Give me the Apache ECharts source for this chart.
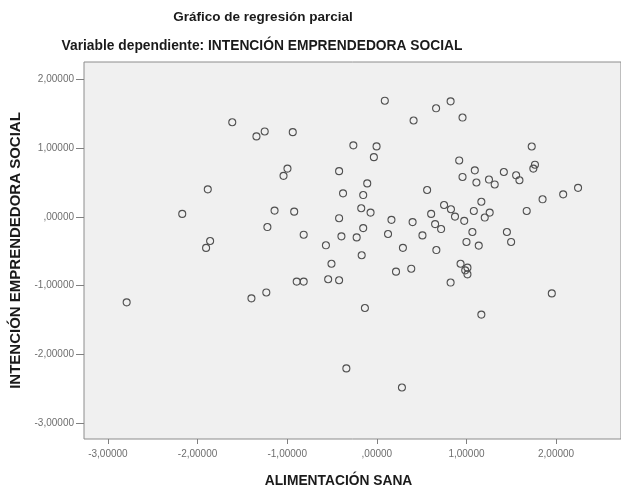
<!DOCTYPE html>
<html>
<head>
<meta charset="utf-8">
<script src="https://cdn.jsdelivr.net/npm/echarts@6/dist/echarts.min.js"></script>
<style>
html,body{margin:0;padding:0;background:#fff;}
#c{width:621px;height:493px;}
</style>
</head>
<body>
<div id="c"></div>
<script>
const titleText = "Gráfico de regresión parcial";
const subtitleText = "Variable dependiente: INTENCIÓN EMPRENDEDORA SOCIAL";
const xAxisName = "ALIMENTACIÓN SANA";
const yAxisName = "INTENCIÓN EMPRENDEDORA SOCIAL";
const xTicks = [-3, -2, -1, 0, 1, 2];
const yTicks = [-3, -2, -1, 0, 1, 2];

const xVals = [
 -1.613,-1.343,-1.886,-2.171,-1.221,-1.860,-1.905,-1.251,0.089,0.661,
 0.823,0.410,0.956,-0.938,-0.262,-0.003,-0.033,-0.997,-1.041,-0.421,
 -0.107,-0.377,-0.152,0.561,-1.141,-0.922,-0.174,-0.070,-0.421,0.163,
 0.399,0.606,0.650,-0.152,-0.816,-0.395,-0.225,0.125,0.509,-0.568,
 0.291,-0.169,0.664,1.728,0.919,1.093,1.764,1.746,0.956,1.111,
 1.417,1.251,1.315,1.554,1.591,2.245,2.079,1.849,1.166,0.750,
 0.827,1.082,1.259,1.204,0.872,0.975,1.672,0.717,1.066,1.451,
 1.000,1.137,1.498,-2.791,-1.399,-1.233,-0.506,-0.894,-0.816,-0.543,
 -0.421,-0.133,0.214,0.384,-0.340,0.280,0.934,1.011,1.011,0.986,
 0.823,1.952,1.166
];
const yVals = [
 1.375,1.169,0.400,0.043,-0.148,-0.350,-0.451,1.241,1.688,1.577,
 1.678,1.400,1.443,1.231,1.039,1.024,0.868,0.701,0.596,0.664,
 0.486,0.342,0.317,0.390,0.091,0.076,0.125,0.062,-0.019,-0.043,
 -0.076,0.043,-0.105,-0.163,-0.259,-0.283,-0.298,-0.249,-0.269,-0.413,
 -0.450,-0.557,-0.482,1.022,0.820,0.676,0.758,0.701,0.580,0.499,
 0.652,0.542,0.471,0.604,0.532,0.422,0.327,0.255,0.220,0.173,
 0.111,0.086,0.062,-0.010,0.004,-0.058,0.086,-0.177,-0.220,-0.220,
 -0.364,-0.417,-0.364,-1.242,-1.184,-1.098,-0.681,-0.940,-0.940,-0.906,
 -0.921,-1.324,-0.796,-0.753,-2.201,-2.479,-0.681,-0.738,-0.835,-0.777,
 -0.954,-1.112,-1.420
];

function fmt(v){
  let s = Math.abs(v).toFixed(5).replace('.', ',');
  if (s.startsWith('0,')) s = s.slice(1);
  return (v < 0 ? '-' : '') + s;
}

const points = xVals.map((x, i) => [x, yVals[i]]);
const chart = echarts.init(document.getElementById('c'), null, {renderer: 'canvas'});
const FONT = '"Liberation Sans", Arial, sans-serif';
chart.setOption({
  backgroundColor: '#ffffff',
  animation: false,
  grid: {left: 83, right: -2, top: 62, bottom: 47, show: true,
         backgroundColor: '#f0f0f0', borderColor: '#8c8c8c', borderWidth: 1},
  graphic: [
    {type: 'text', x: 263, y: 17, style: {text: titleText, fill: '#1a1a1a',
      font: 'bold 13.5px ' + FONT, textAlign: 'center', textVerticalAlign: 'middle'}},
    {type: 'text', x: 262, y: 46, style: {text: subtitleText, fill: '#1a1a1a',
      font: 'bold 13.8px ' + FONT, textAlign: 'center', textVerticalAlign: 'middle'}}
  ],
  xAxis: {
    type: 'value', min: -3.267, max: 2.724,
    name: xAxisName, nameLocation: 'middle', nameGap: 35,
    nameTextStyle: {fontFamily: FONT, fontWeight: 'bold', fontSize: 13.8, color: '#1a1a1a', padding: [0, 28, 0, 0]},
    axisLine: {show: false, onZero: false},
    splitLine: {show: false},
    axisTick: {show: true, length: 5, lineStyle: {color: '#808080'}, customValues: xTicks},
    axisLabel: {customValues: xTicks, formatter: fmt, fontFamily: FONT, fontSize: 10, color: '#6e6e6e', margin: 10}
  },
  yAxis: {
    type: 'value', min: -3.227, max: 2.25,
    name: yAxisName, nameLocation: 'middle', nameGap: 61, nameRotate: 90,
    nameTextStyle: {fontFamily: FONT, fontWeight: 'bold', fontSize: 15, color: '#1a1a1a'},
    axisLine: {show: false, onZero: false},
    splitLine: {show: false},
    axisTick: {show: true, length: 8, lineStyle: {color: '#808080'}, customValues: yTicks},
    axisLabel: {customValues: yTicks, formatter: fmt, fontFamily: FONT, fontSize: 10, color: '#6e6e6e', margin: 10}
  },
  series: [{
    type: 'scatter',
    data: points,
    symbol: 'circle',
    symbolSize: 7,
    itemStyle: {color: 'rgba(0,0,0,0)', borderColor: '#505050', borderWidth: 1.1, opacity: 1}
  }]
});
</script>
</body>
</html>
